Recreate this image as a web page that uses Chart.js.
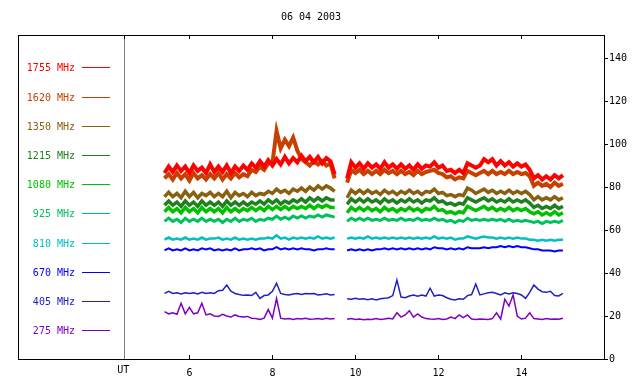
<!DOCTYPE html>
<html><head><meta charset="utf-8">
<script src="https://cdn.jsdelivr.net/npm/chart.js@4/dist/chart.umd.min.js"></script>
<style>html,body{margin:0;padding:0;background:#fff}#wrap{width:640px;height:384px}</style>
</head><body><div id="wrap"><canvas id="c" width="640" height="384"></canvas></div>
<script>
// ---------------- data ----------------
const chartTitle = '06 04 2003';
const seriesLabels = ['1755 MHz','1620 MHz','1350 MHz','1215 MHz','1080 MHz','925 MHz','810 MHz','670 MHz','405 MHz','275 MHz'];
const seriesColors = ['#ff0000','#c84000','#886010','#208020','#00c000','#00c060','#00c0c0','#0000ff','#2020c0','#8000c0'];
const xTickValues = [6,8,10,12,14];
const yTickValues = [0,20,40,60,80,100,120,140];
const utLabel = 'UT';

// sample times (UT hours); 9.65 is the data gap
const times = [
 5.4,5.5,5.6,5.7,5.8,5.9,6.0,6.1,6.2,6.3,
 6.4,6.5,6.6,6.7,6.8,6.9,7.0,7.1,7.2,7.3,
 7.4,7.5,7.6,7.7,7.8,7.9,8.0,8.1,8.2,8.3,
 8.4,8.5,8.6,8.7,8.8,8.9,9.0,9.1,9.2,9.3,
 9.4,9.5,
 9.65,
 9.8,9.9,10.0,10.1,10.2,10.3,10.4,10.5,10.6,10.7,
 10.8,10.9,11.0,11.1,11.2,11.3,11.4,11.5,11.6,11.7,
 11.8,11.9,12.0,12.1,12.2,12.3,12.4,12.5,12.6,12.7,
 12.8,12.9,13.0,13.1,13.2,13.3,13.4,13.5,13.6,13.7,
 13.8,13.9,14.0,14.1,14.2,14.3,14.4,14.5,14.6,14.7,
 14.8,14.9,15.0
];

const f1755 = [
 86.5,89.5,87,90,87.5,89.5,86.5,90,87.5,89,
 86.5,90.5,87,89.5,87,90,86.5,89.5,87.5,90,
 88,91,89,92,89.5,92.5,90,93,90.5,94,
 91,93.5,91.5,94.5,92,94,91.5,94,91,93.5,
 92,86,
 null,
 84,91.5,89,91,88.5,91,89,90.5,88.5,91.5,
 89,90.5,88.5,90.5,88.5,90,88,90.5,88.5,90,
 89.5,91.5,89,90,87.5,88,86.5,88,86.5,91,
 90,89,90,93,91.5,93,90,92,90,91.5,
 89.5,91,89.5,90.5,88,84,85.5,83.5,85,83.5,
 85.5,84,85.5
];
const f1620 = [
 84,86,83.5,86.5,84,86,83,86.5,84,85.5,
 83.5,86,84,86.5,83.5,86,84,86.5,84.5,86,
 85,88,87,89.5,88,91,91,106,98,102,
 99,103,97,93,91.5,90,92,90.5,92,90,
 91,84,
 null,
 82,88,86.5,88,86,87.5,86,87.5,86,88,
 86.5,87.5,86,87.5,86,87,85.5,87.5,86,87,
 87.5,88,86.5,86,84.5,85,83.5,84.5,84,87.5,
 86.5,85.5,86.5,87.5,86,87.5,86,87,86,87.5,
 86,87,86,86.5,85,80.5,82,80.5,81.5,80,
 82,80.5,81.5
];
const f1350 = [
 75.5,77.5,75.5,77,75,78,75.5,77.5,75,77,
 76,77.5,75.5,77,75.5,78,75,77.5,76,77,
 75.5,77.5,76,77,76.5,78,77,79,77.5,78.5,
 77,79,78,79.5,78,80,78.5,80.5,79,80.5,
 79.5,78,
 null,
 75,78.5,77,78.5,77,78.5,77,78,76.5,78.5,
 77,78,76.5,78,77,78.5,77,78,76.5,78,
 77.5,79,77,77.5,76,76.5,75.5,76.5,76,79.5,
 78.5,77,78,79,77.5,78.5,77,78,77,78.5,
 77,78,77,78,76.5,74,75.5,74,75,74,
 75.5,74,75
];
const f1215 = [
 71.5,73.5,71.5,73,71,73.5,71.5,73,71,73.5,
 71.5,73,71.5,73,71,73.5,71.5,73,71.5,73,
 71.5,73,72,73.5,72,74,72.5,74,72,73.5,
 72.5,74,73,74.5,73,75,73.5,75,73.5,75,
 74,74,
 null,
 72,74.5,73,74.5,73,74.5,73,74,72.5,74.5,
 73,74,72.5,74,73,74.5,73,74,72.5,74,
 73.5,75,73,73.5,72,72.5,71.5,72.5,72,75,
 74,73,74,75,73.5,74.5,73,74,73,74.5,
 73,74,73,74,72.5,70.5,71.5,70,71,70,
 71.5,70,71
];
const f1080 = [
 68.5,70.5,68.5,70,68,70.5,68.5,70,68,70.5,
 68.5,70,68.5,70,68,70.5,68.5,70,68.5,70,
 69,70.5,69,70.5,69,71,69.5,71,69.5,71,
 69.5,71,70,71,70,71.5,70,71.5,70.5,71.5,
 70.5,70.5,
 null,
 68,70.5,69,70.5,69,70.5,69,70,68.5,70.5,
 69,70,68.5,70,69,70.5,69,70,68.5,70,
 69.5,71,69,69.5,68,68.5,67.5,68.5,68,71,
 70,69,70,71,69.5,70.5,69,70,69,70.5,
 69,70,69,70,68.5,67.5,68.5,67,68,67,
 68.5,67,68
];
const f925 = [
 64,65.5,64,65,63.5,65.5,64,65,64,65.5,
 64,65,64,65,63.5,65,64,65.5,64,65,
 64.5,65.5,64,65,64.5,65.5,65,66.5,65,66,
 65,66.5,65.5,66.5,65.5,66.5,66,67,66,67,
 66.5,66,
 null,
 64,65.5,64.5,65.5,64.5,65.5,64.5,65,64.5,65.5,
 64.5,65,64.5,65.5,64.5,65,64.5,65.5,64.5,65,
 64.5,65.5,64.5,65,64,64.5,63.5,64.5,64,65.5,
 64.5,65,64.5,65,64.5,65,64.5,65,64,65,
 64,64.5,64,64.5,64,63.5,64,63,64,63.5,
 64,63.5,64.5
];
const f810 = [
 55.5,56.5,55.5,56,55.5,56.5,55.5,56,55.5,56.5,
 55.5,56,56,56.5,55.5,56,55.5,56.5,55.5,56,
 55.5,56,55.5,56,56,56.5,56,57.5,56,56.5,
 55.5,56.5,56,56.5,56,56.5,56,57,56,56.5,
 56,56.5,
 null,
 56,56.5,56,56.5,56,57,56,56.5,56,56.5,
 56,56.5,56,56.5,56,56.5,56,56.5,56,56.5,
 56,57,56,56.5,56,56.5,55.5,56,56,57,
 56.5,56,56.5,57,56.5,56.5,56,56.5,56,56.5,
 56,56.5,56,56,55.5,55.5,55,55.5,55,55.5,
 55,55.5,55.5
];
const f670 = [
 50.5,51.5,50.5,51,50.5,51.5,50.5,51,50.5,51.5,
 51,51.5,50.5,51,50.5,51,50.5,51.5,50.5,51,
 51,51.5,51,51.5,50.5,51,51,52,51,51.5,
 51,51.5,51,51.5,51,51,50.5,51,51,51.5,
 51,51,
 null,
 50.5,51,50.5,51,50.5,51,50.5,51,51,51.5,
 51,51.5,51,51.5,51,51.5,51,51.5,51,51.5,
 51,52,51.5,51.5,51,51.5,51,51.5,51,52,
 51.5,51.5,51.5,52,51.5,52,52,52.5,52,52.5,
 52,52.5,52,52,51.5,51,51,50.5,50.5,50.5,
 50,50.5,50.5
];
const f405 = [
 30.5,31.5,30.5,30.8,30.2,30.8,30.5,30.8,30.3,31,
 30.5,30.8,30.5,31.8,32,34.4,31.5,30.5,30,29.6,
 29.8,29.5,31,28.2,29.5,29.8,31.5,35.2,30.5,30,
 29.8,30.2,30.5,30,30.5,30.3,30.5,29.8,30,30.3,
 29.8,30,
 null,
 28,27.8,28.2,27.8,28,27.6,28,27.5,28,28.2,
 28.5,29.5,36.7,28.8,28.5,29.3,29.8,29.2,29.8,29.3,
 32.9,29.3,29.8,29.5,28.5,27.8,27.5,28,27.8,29.5,
 30,34.9,29.8,30.3,30.8,31,30.5,29.8,30.8,30.3,
 30.8,30.5,29.8,28.2,31,34.4,32.5,31.3,31,31.5,
 29.5,29.3,30.5
];
const f275 = [
 22,21,21.5,20.8,25.9,21,24,21,21.5,25.9,
 20.5,21,20,19.8,20.8,20,19.5,20.5,19.8,19.5,
 19.8,19,18.8,18.4,19,23,19,28.2,19,18.6,
 18.8,18.4,18.8,18.6,19,18.5,18.6,18.8,18.5,19,
 18.6,18.8,
 null,
 18.5,18.8,18.4,18.6,18.3,18.5,18.4,18.8,18.4,18.6,
 19,18.6,21.5,19.5,20.5,22.5,19.5,21,19.5,18.8,
 18.6,18.5,18.8,18.4,18.6,19.5,18.8,20.5,19.2,20.5,
 18.6,18.4,18.6,18.5,18.4,18.8,21.5,18.6,27.8,24.6,
 29.8,20,18.6,19,21.5,18.8,18.6,18.4,18.8,18.5,
 18.6,18.5,19
];
const seriesValues = [f1755,f1620,f1350,f1215,f1080,f925,f810,f670,f405,f275];

// ---------------- chart ----------------
const FONT = '10px "DejaVu Sans Mono", monospace';
const X_MIN = 1.87, X_MAX = 15.99, UT_POS = 4.43;
const lineWidths = [4, 4, 3.5, 3.5, 3.5, 3, 2.5, 2, 1.5, 1.5];

const datasets = seriesValues.map((vals, i) => ({
  label: seriesLabels[i],
  data: times.map((t, k) => ({x: t, y: vals[k]})),
  borderColor: seriesColors[i],
  backgroundColor: seriesColors[i],
  borderWidth: lineWidths[i],
  pointRadius: 0,
  tension: 0,
  spanGaps: false,
  borderJoinStyle: 'miter'
}));

const decor = {
  id: 'decor',
  beforeDatasetsDraw(chart) {
    const ctx = chart.ctx, a = chart.chartArea, xs = chart.scales.x;
    ctx.save();
    const ux = Math.round(xs.getPixelForValue(UT_POS)) + 0.5;
    ctx.strokeStyle = '#808080'; ctx.lineWidth = 1;
    ctx.beginPath(); ctx.moveTo(ux, a.top); ctx.lineTo(ux, a.bottom); ctx.stroke();
    ctx.restore();
  },
  afterDraw(chart) {
    const ctx = chart.ctx, a = chart.chartArea, xs = chart.scales.x;
    ctx.save();
    ctx.strokeStyle = '#000'; ctx.lineWidth = 1;
    ctx.strokeRect(Math.round(a.left) + 0.5, Math.round(a.top) + 0.5,
                   Math.round(a.right - a.left), Math.round(a.bottom - a.top));
    ctx.beginPath();
    const ticksAll = [UT_POS].concat(xTickValues);
    ticksAll.forEach(v => {
      const px = Math.round(xs.getPixelForValue(v)) + 0.5;
      ctx.moveTo(px, a.top); ctx.lineTo(px, a.top + 4);
      if (v !== UT_POS) { ctx.moveTo(px, a.bottom); ctx.lineTo(px, a.bottom - 4); }
    });
    ctx.stroke();
    ctx.font = FONT; ctx.fillStyle = '#000';
    ctx.textAlign = 'center'; ctx.textBaseline = 'middle';
    ctx.fillText(chartTitle, (a.left + a.right) / 2, 17);
    ctx.fillText(utLabel, xs.getPixelForValue(UT_POS) - 1, 370);
    ctx.textAlign = 'right';
    seriesLabels.forEach((lab, i) => {
      const y = Math.round(a.top + 32.3 + i * 29.2) + 0.5;
      ctx.fillStyle = seriesColors[i];
      ctx.fillText(lab, 75, y + 0.5);
      ctx.strokeStyle = seriesColors[i];
      ctx.beginPath(); ctx.moveTo(82, y); ctx.lineTo(110, y); ctx.stroke();
    });
    ctx.restore();
  }
};

new Chart(document.getElementById('c'), {
  type: 'line',
  data: { datasets },
  options: {
    responsive: false,
    animation: false,
    devicePixelRatio: 1,
    layout: { padding: { left: 18, top: 35, right: 0, bottom: 0 } },
    plugins: { legend: { display: false }, title: { display: false }, tooltip: { enabled: false } },
    scales: {
      x: {
        type: 'linear', position: 'bottom', min: X_MIN, max: X_MAX,
        afterFit: s => { s.height = 25; },
        afterBuildTicks: s => { s.ticks = xTickValues.map(v => ({ value: v })); },
        grid: { display: false, drawTicks: false },
        border: { display: false },
        ticks: { font: { family: '"DejaVu Sans Mono", monospace', size: 10 }, color: '#000', padding: 8, maxRotation: 0, autoSkip: false,
                 callback: v => String(v) }
      },
      y: {
        type: 'linear', position: 'right', min: 0, max: 150.7,
        afterFit: s => { s.width = 36; },
        afterBuildTicks: s => { s.ticks = yTickValues.map(v => ({ value: v })); },
        grid: { drawOnChartArea: false, drawTicks: true, tickLength: 4, color: '#000' },
        border: { display: true, color: '#000' },
        ticks: { font: { family: '"DejaVu Sans Mono", monospace', size: 10 }, color: '#000', padding: 1, autoSkip: false,
                 callback: v => String(v) }
      }
    }
  },
  plugins: [decor]
});
</script>
</body></html>
